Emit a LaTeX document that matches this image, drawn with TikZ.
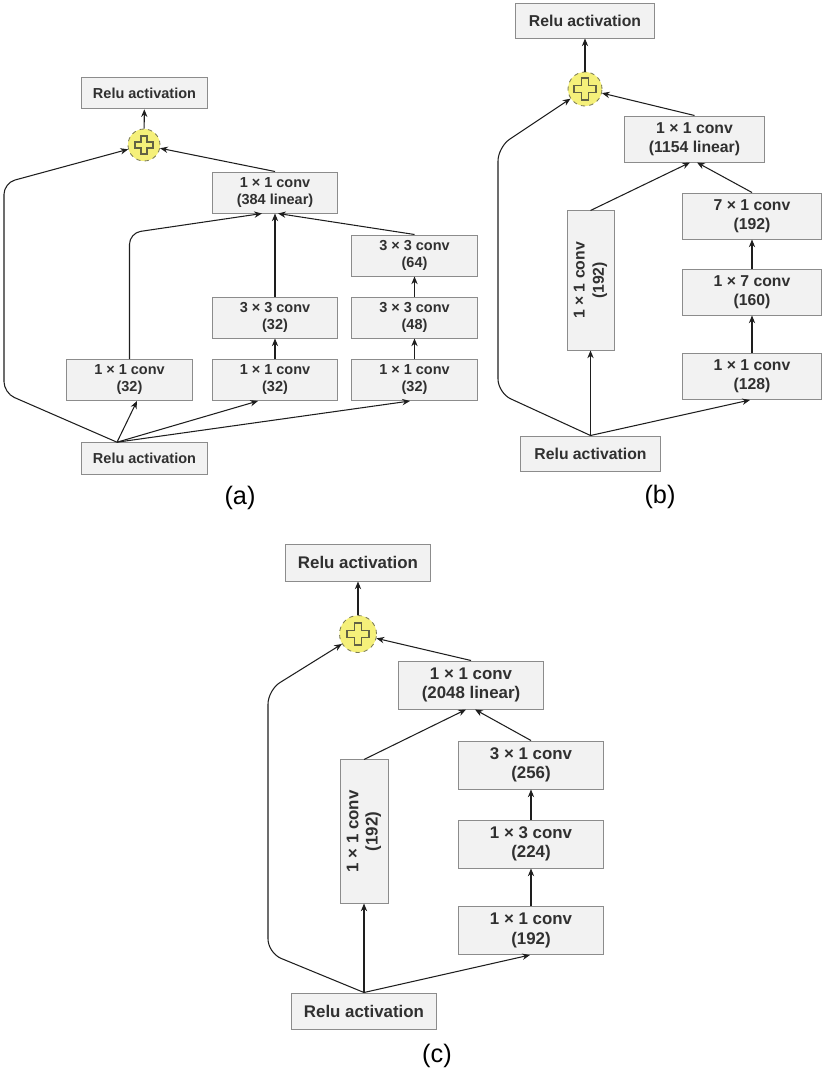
\documentclass[tikz,border=0pt]{standalone}
\usepackage{fontspec}
\setmainfont{Liberation Sans}
\usepackage{tikz}
\usetikzlibrary{calc,arrows.meta,positioning}
\definecolor{boxfill}{HTML}{F2F2F2}
\definecolor{boxline}{HTML}{8C8C8C}
\definecolor{textgray}{HTML}{303030}
\definecolor{linegray}{HTML}{1E1E1E}
\definecolor{sumfill}{HTML}{F5F07A}
\definecolor{sumline}{HTML}{7A7A55}
\tikzset{
  box/.style={draw=boxline,fill=boxfill,line width=0.7pt,align=center,
    inner sep=0pt,text=textgray},
  boxa/.style={box,minimum width=3.125cm,minimum height=1.025cm,
    font=\fontsize{10.3}{12.1}\selectfont\bfseries},
  boxb/.style={box,minimum width=3.45cm,minimum height=1.15cm,
    font=\fontsize{11.2}{13.7}\selectfont\bfseries},
  boxc/.style={box,minimum width=3.6cm,minimum height=1.2cm,
    font=\fontsize{12}{13.7}\selectfont\bfseries},
  sumnode/.style={circle,draw=sumline,fill=sumfill,dashed,line width=0.6pt,
    inner sep=0pt},
  crossline/.style={draw=sumline!80!black,fill=sumfill,line width=0.8pt,
    line join=miter},
  caption/.style={font=\fontsize{18}{20}\selectfont}
}
\tikzstyle{arrow} = [draw=linegray,line width=0.75pt,
  -{Stealth[length=5.5pt,width=4.5pt]}]
% plus sign inside a sum node: #1 node, #2 half size
\newcommand{\addsign}[2]{%
  \draw[crossline,shift={(#1)},scale=#2]
    (-1,-0.33) -- (-0.33,-0.33) -- (-0.33,-1) -- (0.33,-1) -- (0.33,-0.33)
    -- (1,-0.33) -- (1,0.33) -- (0.33,0.33) -- (0.33,1) -- (-0.33,1)
    -- (-0.33,0.33) -- (-1,0.33) -- cycle;}

\begin{document}
\begin{tikzpicture}[x=0.025cm,y=-0.025cm]
  \useasboundingbox (0,0) rectangle (825,1072);

  % (a)
  \node[boxa,minimum height=0.79cm] (topa) at (144.5,93) {Relu activation};
  \node[sumnode,minimum size=0.8cm] (suma) at (144,145) {};
  \addsign{suma}{9}
  \node[boxa] (lina) at (275,192.5) {1 × 1 conv\\(384 linear)};
  \node[boxa] (c64a) at (414.5,255.5) {3 × 3 conv\\(64)};
  \node[boxa] (c32a) at (275,317.5) {3 × 3 conv\\(32)};
  \node[boxa] (c48a) at (414.5,317.5) {3 × 3 conv\\(48)};
  \node[boxa] (lefta) at (129.5,380) {1 × 1 conv\\(32)};
  \node[boxa] (mida) at (275,380) {1 × 1 conv\\(32)};
  \node[boxa] (righta) at (414.5,380) {1 × 1 conv\\(32)};
  \node[boxa,minimum height=0.79cm] (relua) at (144.5,458.5) {Relu activation};
  \node[caption] (capa) at (240,498) {(a)};

  \coordinate (srca) at ($(relua.north)+(-27.5,0)$);
  \draw[arrow] (srca) -- ($(lefta.south)+(7.5,0)$);
  \draw[arrow] (srca) -- ($(mida.south)+(-17,0)$);
  \draw[arrow] (srca) -- ($(righta.south)+(-4.5,0)$);
  \draw[arrow,rounded corners=8pt] (srca) -- (4,393) -- (4,183) -- (suma);
  \draw[arrow,rounded corners=8pt] (lefta.north) -- (129.5,233)
    -- ($(lina.south)+(-13,0)$);
  \draw[arrow] (mida) -- (c32a);
  \draw[arrow] (c32a) -- (lina);
  \draw[arrow] (righta) -- (c48a);
  \draw[arrow] (c48a) -- (c64a);
  \draw[arrow] (c64a.north) -- ($(lina.south)+(3,0)$);
  \draw[arrow] (lina.north) -- (suma);
  \draw[arrow] (suma) -- (topa);

  % (b)
  \node[boxb,minimum height=0.875cm] (topb) at (585,20.5) {Relu activation};
  \node[sumnode,minimum size=0.85cm] (sumb) at (585,89) {};
  \addsign{sumb}{11}
  \node[boxb,minimum width=3.475cm] (linb) at (694.5,139) {1 × 1 conv\\(1154 linear)};
  \node[boxb] (c71b) at (752,216) {7 × 1 conv\\(192)};
  \node[boxb] (c17b) at (752,292) {1 × 7 conv\\(160)};
  \node[boxb] (c11b) at (752,376.5) {1 × 1 conv\\(128)};
  \node[boxb,rotate=90,minimum width=3.475cm,minimum height=1.175cm]
    (vb) at (590.5,280.5) {1 × 1 conv\\(192)};
  \node[boxb,minimum width=3.475cm,minimum height=0.875cm]
    (relub) at (590.5,453.5) {Relu activation};
  \node[caption] (capb) at (660,497) {(b)};

  \draw[arrow] (relub.north) -- (vb.west);
  \draw[arrow] (relub.north) -- ($(c11b.south)+(-2,0)$);
  \draw[arrow,rounded corners=10pt] (relub.north) -- (498,393) -- (498,147)
    -- (sumb);
  \draw[arrow] (vb.east) -- ($(linb.south)+(-4.5,0)$);
  \draw[arrow] (c11b) -- (c17b);
  \draw[arrow] (c17b) -- (c71b);
  \draw[arrow] (c71b.north) -- ($(linb.south)+(2.5,0)$);
  \draw[arrow] (linb.north) -- (sumb);
  \draw[arrow] (sumb) -- (topb);

  % (c)
  \node[boxc,minimum height=0.925cm] (topc) at (358,562.5) {Relu activation};
  \node[sumnode,minimum size=0.925cm] (sumc) at (358,634) {};
  \addsign{sumc}{11}
  \node[boxc] (linc) at (471,685) {1 × 1 conv\\(2048 linear)};
  \node[boxc] (c31c) at (531,765) {3 × 1 conv\\(256)};
  \node[boxc] (c13c) at (531,844) {1 × 3 conv\\(224)};
  \node[boxc] (c11c) at (531,930.5) {1 × 1 conv\\(192)};
  \node[boxc,rotate=90,minimum width=3.575cm,minimum height=1.2cm]
    (vc) at (364,831.5) {1 × 1 conv\\(192)};
  \node[boxc,minimum height=0.9cm] (reluc) at (364,1011) {Relu activation};
  \node[caption] (capc) at (437,1056) {(c)};

  \draw[arrow] (reluc.north) -- (vc.west);
  \draw[arrow] (reluc.north) -- ($(c11c.south)+(-1,0)$);
  \draw[arrow,rounded corners=10pt] (reluc.north) -- (268,953) -- (268,690)
    -- (sumc);
  \draw[arrow] (vc.east) -- ($(linc.south)+(-5,0)$);
  \draw[arrow] (c11c) -- (c13c);
  \draw[arrow] (c13c) -- (c31c);
  \draw[arrow] (c31c.north) -- ($(linc.south)+(4,0)$);
  \draw[arrow] (linc.north) -- (sumc);
  \draw[arrow] (sumc) -- (topc);
\end{tikzpicture}
\end{document}
